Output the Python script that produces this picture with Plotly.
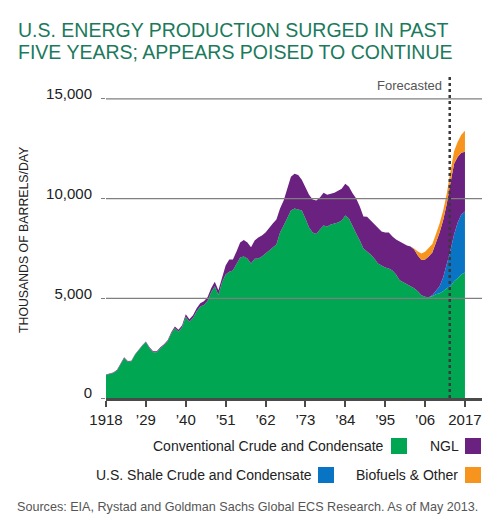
import plotly.graph_objects as go

years = list(range(1918, 2018))

conventional = [
    1150, 1200, 1250, 1370, 1670, 2010, 1820, 1840, 2170, 2420,  # 1918-1927
    2620, 2810, 2500, 2300, 2300, 2500, 2650, 2850, 3230, 3500,  # 1928-1937
    3330, 3550, 4080, 3820, 4010, 4350, 4590, 4670, 4860, 5300,  # 1938-1947
    5610, 5170, 5800, 6200, 6330, 6400, 6700, 7050, 7100, 7000,  # 1948-1957
    6750, 6980, 7000, 7100, 7250, 7420, 7550, 7700, 8300, 8650,  # 1958-1967
    9050, 9400, 9500, 9430, 9400, 9000, 8550, 8300, 8220, 8450,  # 1968-1977
    8650, 8600, 8700, 8750, 8800, 8900, 9150, 9000, 8600, 8250,  # 1978-1987
    7900, 7500, 7350, 7200, 7000, 6750, 6650, 6550, 6500, 6400,  # 1988-1997
    6200, 5900, 5800, 5700, 5600, 5500, 5350, 5150, 5080, 5050,  # 1998-2007
    5100, 5200, 5250, 5350, 5500, 5600, 5850, 6000, 6200, 6300,  # 2008-2017
]

shale = [0] * 90 + [50, 200, 350, 700, 1200, 1800, 2350, 2800, 3000, 3050]

ngl = [
    30, 30, 30, 30, 30, 30, 30, 30, 30, 30,
    30, 30, 50, 50, 50, 50, 50, 50, 70, 80,
    90, 100, 120, 130, 140, 150, 160, 180, 190, 200,
    220, 230, 300, 450, 620, 550, 650, 750, 820, 800,
    810, 920, 1050, 1050, 1050, 1130, 1200, 1250, 1200, 1250,
    1450, 1700, 1750, 1750, 1550, 1600, 1650, 1650, 1680, 1600,
    1650, 1600, 1550, 1550, 1600, 1600, 1600, 1600, 1670, 1750,
    1700, 1600, 1740, 1700, 1700, 1750, 1700, 1750, 1800, 1700,
    1750, 1950, 1950, 1950, 2000, 1950, 1800, 1770, 1870, 2050,
    2150, 2400, 2700, 2880, 3050, 3400, 3550, 3300, 3100, 3000,
]

biofuels = [0] * 85 + [50, 200, 330, 380, 400, 420, 430, 450, 480, 520, 560, 620, 750, 900, 1050]

x_tick_vals = [1918, 1929, 1940, 1951, 1962, 1973, 1984, 1995, 2006, 2017]
x_tick_text = ["1918", "\u201929", "\u201940", "\u201951", "\u201962", "\u201973",
               "\u201984", "\u201995", "\u201906", "2017"]
y_tick_vals = [0, 5000, 10000, 15000]
y_tick_text = ["0", "5,000", "10,000", "15,000"]
forecast_year = 2012.8

series = [
    ("Conventional Crude and Condensate", conventional, "#00a651"),
    ("U.S. Shale Crude and Condensate", shale, "#0a74c4"),
    ("NGL", ngl, "#6a2180"),
    ("Biofuels & Other", biofuels, "#f7941d"),
]

# the page body keeps an 8px margin, so the figure is drawn 8px smaller
FIG_W, FIG_H = 492, 513
# plot box in page pixels
L, R, T, B = 106, 482, 75, 398
W, H = R - L, B - T


def px(x):
    return (x - L) / W


def py(y):
    return (B - y) / H


fig = go.Figure()
for name, vals, color in series:
    fig.add_trace(go.Scatter(
        x=years, y=vals, name=name, stackgroup="one",
        mode="lines", line=dict(width=0, color=color),
        fillcolor=color, showlegend=False,
    ))

shapes = []
for v in y_tick_vals[1:]:
    shapes.append(dict(type="line", xref="paper", yref="y", x0=0, x1=1, y0=v, y1=v,
                       line=dict(color="#7f7f7f", width=1.2), layer="above"))
shapes.append(dict(type="line", xref="x", yref="paper", x0=forecast_year, x1=forecast_year,
                   y0=0, y1=1, line=dict(color="#3a3a3a", width=2.5, dash="dot"), layer="above"))

font = "Liberation Sans, Arial, sans-serif"

annotations = [
    dict(text="U.S. ENERGY PRODUCTION SURGED IN PAST", x=px(16), y=py(30), xanchor="left",
         yanchor="middle", font=dict(family=font, size=19.5, color="#1b7a5c")),
    dict(text="FIVE YEARS; APPEARS POISED TO CONTINUE", x=px(16), y=py(52), xanchor="left",
         yanchor="middle", font=dict(family=font, size=19.5, color="#1b7a5c")),
    dict(text="Forecasted", x=px(444), y=py(86), xanchor="right", yanchor="middle",
         font=dict(family=font, size=13, color="#555555")),
    dict(text="THOUSANDS OF BARRELS/DAY", x=px(24), y=py(240), xanchor="center", yanchor="middle",
         textangle=-90, font=dict(family=font, size=12.3, color="#222222")),
    dict(text="Sources: EIA, Rystad and Goldman Sachs Global ECS Research. As of May 2013.",
         x=px(15), y=py(507), xanchor="left", yanchor="middle",
         font=dict(family=font, size=12.6, color="#555555")),
]

legend_items = [
    ("Conventional Crude and Condensate", "#00a651", 384, 391, 446),
    ("NGL", "#6a2180", 459, 465, 446),
    ("U.S. Shale Crude and Condensate", "#0a74c4", 312, 318, 475),
    ("Biofuels & Other", "#f7941d", 458, 465, 475),
]
for label, color, text_right, sq_left, yc in legend_items:
    annotations.append(dict(text=label, x=px(text_right + 2), y=py(yc), xanchor="right",
                            yanchor="middle", font=dict(family=font, size=14, color="#222222")))
    shapes.append(dict(type="rect", xref="paper", yref="paper", x0=px(sq_left), x1=px(sq_left + 16),
                       y0=py(yc + 8), y1=py(yc - 8), fillcolor=color, line=dict(width=0)))

for a in annotations:
    a.update(xref="paper", yref="paper", showarrow=False)

fig.update_layout(
    width=FIG_W, height=FIG_H,
    margin=dict(l=L - 8, r=FIG_W - (R - 8), t=T - 8, b=FIG_H - (B - 8)),
    paper_bgcolor="white", plot_bgcolor="white",
    showlegend=False,
    shapes=shapes, annotations=annotations,
    xaxis=dict(range=[1918, 2021.7], tickvals=x_tick_vals, ticktext=x_tick_text,
               showgrid=False, zeroline=False, showline=True, linecolor="#4a4a4a", linewidth=2.5,
               ticks="outside", ticklen=6, tickwidth=1.5, tickcolor="#4a4a4a",
               tickfont=dict(family=font, size=15, color="#222222"), layer="above traces"),
    yaxis=dict(range=[0, 16200], tickvals=y_tick_vals, ticktext=y_tick_text,
               showgrid=False, zeroline=False, showline=False,
               ticks="outside", ticklen=4, tickcolor="#7f7f7f",
               ticklabelshift=-5, ticklabelstandoff=6,
               tickfont=dict(family=font, size=15, color="#222222")),
)

fig.write_html("out.html")
